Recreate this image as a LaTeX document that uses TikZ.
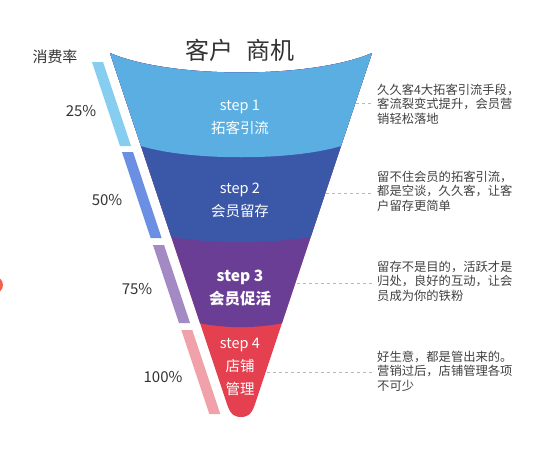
\documentclass[tikz,border=0pt]{standalone}
\usepackage{fontspec}
\newfontfamily\cjk{Noto Sans CJK SC}
\usetikzlibrary{positioning, calc}
\definecolor{lvone}{HTML}{5AAEE2}
\definecolor{lvtwo}{HTML}{3A57A8}
\definecolor{lvthree}{HTML}{6B3E96}
\definecolor{lvfour}{HTML}{E4404F}
\definecolor{barone}{HTML}{86CDF0}
\definecolor{bartwo}{HTML}{6A8FE3}
\definecolor{barthree}{HTML}{A38AC4}
\definecolor{barfour}{HTML}{F0A1A9}
\definecolor{dotred}{HTML}{F0604A}
\tikzset{
  steplbl/.style  = {text=white, align=center, inner sep=0pt,
                     font=\cjk\fontsize{14.5}{23}\selectfont},
  steplblb/.style = {steplbl, font=\cjk\bfseries\fontsize{15.5}{23}\selectfont},
  pct/.style      = {text=black!80, inner sep=0pt, font=\cjk\fontsize{15}{18}\selectfont},
  ttl/.style      = {text=black!80, inner sep=0pt, font=\cjk\fontsize{24}{28}\selectfont},
  note/.style     = {text=black!75, align=left, anchor=west, inner xsep=3pt, inner ysep=0pt,
                     font=\cjk\fontsize{12.3}{14.5}\selectfont},
  leader/.style   = {draw=black!28, dashed, line width=0.7pt},
}

\begin{document}
\begin{tikzpicture}[x=1pt, y=-1pt]
\useasboundingbox (0,0) rectangle (550,450);
\fill[dotred] (-5,285) circle (8);

% rate bars on the left
\foreach \ya/\yb/\col in {62/146/barone, 152/238/bartwo, 245/323/barthree, 330/414/barfour}
  \fill[\col] ({92+(\ya-62)/3},\ya) -- ({103+(\ya-62)/3},\ya)
    -- ({103+(\yb-62)/3},\yb) -- ({92+(\yb-62)/3},\yb) -- cycle;

% funnel
\begin{scope}
  \path[clip] (110,53) .. controls (170,79) and (312,79) .. (372,53)
    -- (254.7,405) .. controls (251,416) and (246,417) .. (241,417)
    .. controls (236,417) and (231,416) .. (227.3,405) -- cycle;
  \fill[lvfour] (100,40) rectangle (390,430);
  \fill[lvthree] (100,40) -- (100,323) -- (199,323) .. controls (225,328.5) and (257,328.5) .. (283,323)
    -- (390,323) -- (390,40) -- cycle;
  \fill[lvtwo] (100,40) -- (100,237) -- (171,237) .. controls (218,244) and (264,244) .. (311,237)
    -- (390,237) -- (390,40) -- cycle;
  \fill[lvone] (100,40) -- (100,146) -- (141,146) .. controls (190,161) and (292,161) .. (341,146)
    -- (390,146) -- (390,40) -- cycle;
\end{scope}

\node[ttl] (title) at (240,50) {客户\hspace{0.3em} 商机};
\node[pct] (rate) at (55,57) {消费率};

\node[steplbl]  (s1) at (240,117.5) {step 1\\拓客引流};
\node[steplbl]  (s2) at (240,200.5) {step 2\\会员留存};
\node[steplblb] (s3) at (240,288.5) {step 3\\会员促活};
\node[steplbl]  (s4) at (240,367)   {step 4\\店铺\\管理};

\node[pct] (p1) at (81,111)  {25\%};
\node[pct] (p2) at (107,200) {50\%};
\node[pct] (p3) at (137,289) {75\%};
\node[pct] (p4) at (163,377) {100\%};

% notes on the right
\node[note] (t1) at (374,104) {久久客4大拓客引流手段，\\客流裂变式提升，会员营\\销轻松落地};
\node[note] (t2) at (374,191) {留不住会员的拓客引流，\\都是空谈，久久客，让客\\户留存更简单};
\node[note] (t3) at (374,281) {留存不是目的，活跃才是\\归处，良好的互动，让会\\员成为你的铁粉};
\node[note] (t4) at (374,371) {好生意，都是管出来的。\\营销过后，店铺管理各项\\不可少};

\coordinate (e1) at (356,103);
\coordinate (e2) at (326,193);
\coordinate (e3) at (297,283);
\coordinate (e4) at (267,372);
\draw[leader] (e1) -- (e1 -| t1.west);
\draw[leader] (e2) -- (e2 -| t2.west);
\draw[leader] (e3) -- (e3 -| t3.west);
\draw[leader] (e4) -- (e4 -| t4.west);
\end{tikzpicture}
\end{document}
